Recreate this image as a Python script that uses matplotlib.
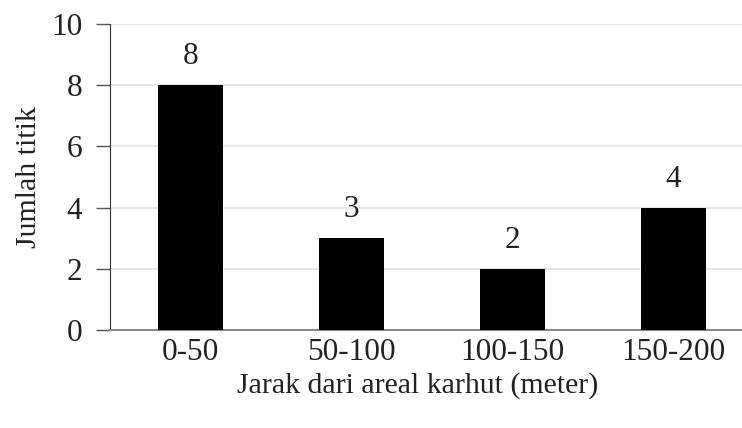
import matplotlib.pyplot as plt
import numpy as np

# jumlah titik per kelas jarak
kelas_jarak = ["0-50", "50-100", "100-150", "150-200"]
jumlah_titik = [8, 3, 2, 4]
y_ticks = [0, 2, 4, 6, 8, 10]

plt.rcParams["font.family"] = ["Liberation Serif", "DejaVu Serif"]
FS = 22.5

fig = plt.figure(figsize=(7.42, 4.28), dpi=100)
ax = fig.add_axes([0.148, 0.229, 0.868, 0.715])

x = np.arange(len(kelas_jarak))
bars = ax.bar(x, jumlah_titik, width=0.4, color="black", zorder=3)

for b, v in zip(bars, jumlah_titik):
    ax.text(b.get_x() + b.get_width() / 2, v + 0.45, str(v),
            ha="center", va="bottom", fontsize=FS, color="#222222")

ax.set_xlim(-0.5, 3.5)
ax.set_ylim(0, 10)
ax.set_yticks(y_ticks)
ax.set_xticks(x)
ax.set_xticklabels(kelas_jarak)
ax.tick_params(axis="y", length=10, width=1, color="#555555", labelsize=FS,
               labelcolor="#222222", pad=10)
ax.tick_params(axis="x", length=0, labelsize=FS, labelcolor="#222222", pad=6)

ax.grid(axis="y", color="#e3e3e3", linewidth=1.2, zorder=0)
ax.spines["top"].set_visible(False)
ax.spines["right"].set_visible(False)
ax.spines["left"].set_color("#333333")
ax.spines["bottom"].set_color("#888888")
ax.spines["bottom"].set_linewidth(1.5)

ax.set_ylabel("Jumlah titik", fontsize=21.5, color="#222222")
ax.yaxis.set_label_coords(-0.105, 0.5)
ax.set_xlabel("Jarak dari areal karhut (meter)", fontsize=21.5, color="#222222")
ax.xaxis.set_label_coords(0.478, -0.138)

fig.savefig("out.png", dpi=100)
